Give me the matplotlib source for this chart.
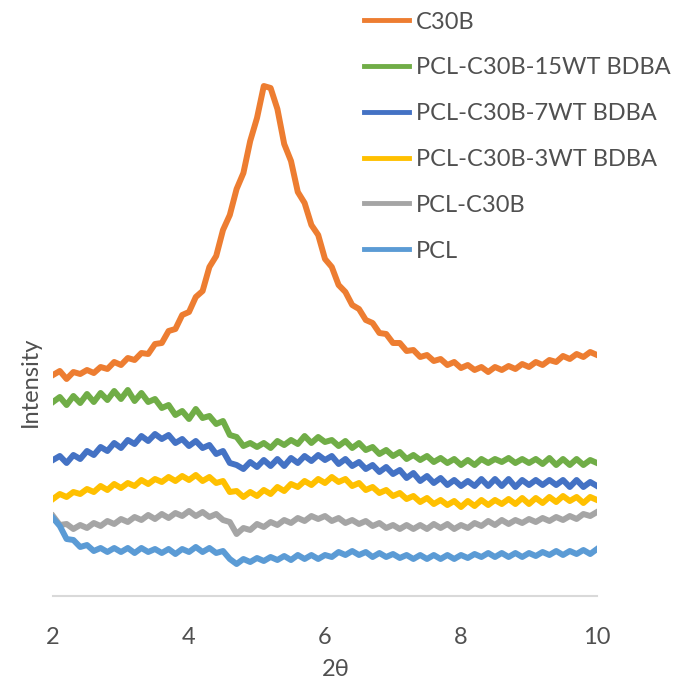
import matplotlib
matplotlib.use("Agg")
import matplotlib.pyplot as plt
import numpy as np

# 2theta grid, 0.1 deg steps from 2 to 10
two_theta = np.round(np.arange(2.0, 10.05, 0.1), 1)

# intensities (a.u.)
c30b = [221, 225, 217, 224, 222, 226, 223, 229, 227, 234,
        231, 238, 236, 243, 242, 252, 253, 265, 267, 281,
        284, 299, 305, 329, 340, 366, 381, 407, 423, 455,
        478, 510, 508, 487, 452, 435, 404, 393, 371, 361,
        337, 329, 311, 304, 291, 287, 276, 273, 263, 262,
        253, 253, 245, 246, 239, 241, 235, 237, 231, 234,
        228, 231, 226, 229, 224, 229, 226, 230, 227, 232,
        229, 234, 231, 236, 234, 240, 237, 242, 239, 244,
        241]
bdba15 = [194, 199, 191, 200, 193, 202, 194, 203, 196, 205,
          197, 206, 195, 203, 194, 197, 188, 191, 181, 185,
          177, 187, 178, 180, 172, 175, 161, 159, 150, 153,
          149, 153, 148, 155, 151, 156, 152, 160, 153, 159,
          154, 156, 150, 155, 148, 153, 146, 149, 142, 146,
          140, 144, 137, 141, 136, 140, 134, 138, 133, 137,
          131, 136, 131, 137, 133, 137, 134, 138, 133, 137,
          133, 137, 132, 138, 131, 137, 131, 137, 131, 136,
          133]
bdba7 = [136, 140, 133, 141, 137, 145, 141, 149, 145, 153,
         148, 156, 152, 160, 155, 162, 157, 161, 153, 157,
         150, 155, 148, 151, 142, 145, 133, 131, 127, 134,
         129, 136, 130, 137, 130, 138, 133, 140, 135, 141,
         136, 140, 132, 137, 130, 134, 127, 131, 124, 129,
         122, 126, 118, 123, 115, 120, 113, 118, 111, 116,
         110, 115, 110, 117, 110, 117, 110, 117, 109, 116,
         111, 116, 111, 116, 111, 116, 109, 116, 109, 114,
         110]
bdba3 = [97, 102, 99, 104, 102, 107, 104, 110, 106, 112,
         108, 113, 110, 116, 112, 117, 114, 119, 115, 120,
         116, 121, 115, 119, 113, 115, 104, 105, 99, 104,
         100, 106, 102, 109, 105, 112, 109, 115, 111, 117,
         113, 119, 114, 117, 110, 113, 106, 109, 103, 106,
         100, 103, 97, 100, 94, 98, 92, 96, 91, 95,
         89, 95, 90, 96, 91, 96, 92, 97, 92, 98,
         92, 98, 93, 99, 94, 100, 95, 99, 93, 99,
         96]
pcl_c30b = [80, 71, 72, 67, 71, 68, 73, 70, 75, 72,
            77, 74, 79, 76, 81, 77, 82, 78, 83, 80,
            85, 80, 84, 79, 82, 76, 74, 62, 68, 66,
            72, 69, 74, 71, 76, 73, 78, 75, 80, 77,
            80, 75, 78, 73, 76, 72, 75, 70, 73, 68,
            71, 67, 71, 67, 71, 67, 72, 68, 72, 67,
            71, 68, 73, 70, 75, 71, 76, 72, 76, 73,
            77, 74, 78, 75, 79, 76, 80, 77, 82, 80,
            84]
pcl = [78, 70, 57, 56, 49, 51, 45, 48, 44, 48,
       44, 48, 43, 48, 44, 47, 43, 47, 42, 47,
       44, 49, 44, 48, 43, 45, 37, 32, 37, 34,
       38, 35, 39, 36, 40, 36, 41, 37, 41, 37,
       41, 39, 44, 41, 45, 41, 44, 39, 43, 39,
       42, 38, 41, 37, 41, 37, 41, 37, 41, 37,
       41, 38, 42, 39, 43, 39, 43, 39, 43, 39,
       43, 40, 44, 41, 45, 41, 45, 42, 46, 42,
       47]

labels = ["C30B", "PCL-C30B-15WT BDBA", "PCL-C30B-7WT BDBA",
          "PCL-C30B-3WT BDBA", "PCL-C30B", "PCL"]
series = [c30b, bdba15, bdba7, bdba3, pcl_c30b, pcl]
colors = ["#ED7D31", "#70AD47", "#4472C4", "#FFC000", "#A5A5A5", "#5B9BD5"]
xticks = [2, 4, 6, 8, 10]

plt.rcParams['font.family'] = ['Lato', 'DejaVu Sans']
text_color = "#505050"

fig = plt.figure(figsize=(6.88, 6.92), dpi=100)
ax = fig.add_axes([53 / 688, 96 / 692, 544 / 688, 596 / 692])

for y, lab, col in zip(series, labels, colors):
    ax.plot(two_theta, y, color=col, linewidth=4.3, label=lab,
            solid_joinstyle='round')

ax.set_xlim(2, 10)
ax.set_ylim(0, 596)
ax.set_xticks(xticks)
ax.set_yticks([])
for side in ["top", "right", "left"]:
    ax.spines[side].set_visible(False)
ax.spines["bottom"].set_color("#d9d9d9")
ax.spines["bottom"].set_linewidth(1.5)
ax.tick_params(axis='x', length=0, pad=22, labelsize=17, labelcolor=text_color)

ax.set_xlabel("2θ", fontsize=17, color=text_color)
ax.xaxis.set_label_coords(0.52, -0.105)
ax.set_ylabel("Intensity", fontsize=17, color=text_color)
ax.yaxis.set_label_coords(-0.022, 0.36)

leg = fig.legend(loc='upper left', bbox_to_anchor=(343 / 688, 1.014),
                 frameon=False, fontsize=17, labelspacing=1.05,
                 handlelength=1.9, handletextpad=0.3, labelcolor=text_color)
for h in leg.get_lines():
    h.set_linewidth(3.5)

fig.savefig("out.png", dpi=100)
